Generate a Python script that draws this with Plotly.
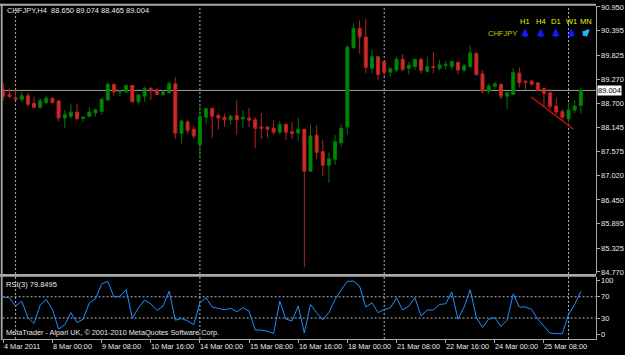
import plotly.graph_objects as go

W, H = 625, 355

# ---------------- data ----------------
opens = [89.03, 88.91, 88.83, 88.79, 88.88, 88.70, 88.61, 88.72, 88.82, 88.76,
         88.36, 88.40, 88.50, 88.35, 88.40, 88.48, 88.51, 88.78, 89.15, 88.97,
         88.97, 89.12, 88.74, 88.87, 89.05, 89.01, 88.91, 88.95, 89.16, 88.00,
         88.27, 88.10, 87.74, 88.38, 88.58, 88.42, 88.38, 88.32, 88.42, 88.34,
         88.36, 88.32, 88.15, 88.15, 88.12, 88.03, 88.21, 88.04, 88.01, 88.10,
         87.12, 87.96, 87.58, 87.26, 87.40, 87.78, 88.15, 90.00, 90.45, 90.25,
         89.52, 89.79, 89.67, 89.43, 89.48, 89.73, 89.52, 89.56, 89.73, 89.45,
         89.56, 89.52, 89.58, 89.56, 89.66, 89.48, 89.56, 89.87, 89.39, 88.99,
         89.10, 89.15, 88.87, 88.91, 89.41, 89.22, 89.22, 89.18, 89.05, 88.95,
         88.64, 88.51, 88.34, 88.54, 88.650]
highs = [89.18, 89.05, 89.02, 88.97, 88.95, 88.86, 88.82, 88.88, 88.85, 88.77,
         88.55, 88.70, 88.70, 88.40, 88.61, 88.59, 88.83, 89.18, 89.16, 89.03,
         89.13, 89.13, 88.90, 89.09, 89.09, 89.06, 89.02, 89.22, 89.31, 88.32,
         88.32, 88.17, 88.70, 88.59, 88.61, 88.48, 88.46, 88.44, 88.77, 88.53,
         88.59, 88.38, 88.48, 88.17, 88.32, 88.29, 88.25, 88.27, 88.36, 88.11,
         88.21, 88.19, 87.85, 87.56, 87.96, 88.22, 90.06, 90.57, 90.64, 90.67,
         89.96, 89.79, 89.69, 89.54, 89.79, 89.85, 89.67, 89.75, 89.77, 89.79,
         89.91, 89.72, 89.69, 89.69, 89.68, 89.62, 90.04, 89.88, 89.48, 89.16,
         89.20, 89.16, 88.97, 89.53, 89.54, 89.25, 89.25, 89.20, 89.06, 89.03,
         88.83, 88.57, 88.72, 88.78, 89.074]
lows = [88.77, 88.82, 88.77, 88.74, 88.63, 88.59, 88.57, 88.69, 88.70, 88.29,
        88.13, 88.35, 88.32, 88.27, 88.38, 88.40, 88.44, 88.77, 88.88, 88.86,
        88.95, 88.73, 88.67, 88.74, 88.78, 88.90, 88.86, 88.93, 87.88, 87.77,
        87.98, 87.88, 87.42, 88.21, 87.90, 88.10, 88.15, 88.21, 87.97, 88.13,
        88.15, 87.66, 87.87, 87.90, 87.97, 87.98, 87.85, 87.87, 87.83, 84.88,
        87.11, 87.40, 87.01, 86.85, 87.27, 87.68, 87.98, 89.98, 89.86, 89.41,
        89.40, 89.24, 89.35, 89.33, 89.43, 89.45, 89.37, 89.48, 89.40, 89.43,
        89.40, 89.47, 89.48, 89.49, 89.39, 89.43, 89.53, 89.35, 88.93, 88.92,
        89.03, 88.80, 88.57, 88.90, 89.07, 89.03, 89.10, 88.99, 88.64, 88.54,
        88.44, 88.32, 88.25, 88.48, 88.465]
closes = [88.87, 88.86, 88.80, 88.88, 88.68, 88.61, 88.76, 88.82, 88.72, 88.36,
          88.44, 88.50, 88.34, 88.38, 88.50, 88.55, 88.80, 89.15, 88.97, 88.99,
          89.12, 88.74, 88.90, 89.05, 88.99, 88.91, 88.97, 89.16, 88.01, 88.29,
          88.07, 87.94, 88.40, 88.58, 88.40, 88.36, 88.32, 88.40, 88.32, 88.38,
          88.31, 88.12, 88.12, 88.10, 88.03, 88.21, 88.03, 88.00, 88.10, 87.12,
          87.94, 87.56, 87.26, 87.41, 87.81, 88.12, 90.01, 90.45, 90.25, 89.54,
          89.79, 89.37, 89.43, 89.52, 89.73, 89.49, 89.59, 89.73, 89.47, 89.56,
          89.54, 89.60, 89.60, 89.68, 89.48, 89.58, 89.88, 89.37, 88.99, 89.11,
          89.16, 88.87, 88.95, 89.42, 89.18, 89.19, 89.15, 89.01, 88.93, 88.63,
          88.50, 88.38, 88.55, 88.64, 89.004]
rsi3 = [69.3, 68.0, 52.6, 61.8, 30.9, 19.8, 54.4, 64.8, 46.3, 9.3,
        17.4, 40.2, 21.7, 27.8, 58.7, 66.1, 93.9, 99.0, 69.8, 71.1,
        83.3, 29.6, 49.4, 63.7, 56.9, 44.4, 52.6, 80.4, 25.9, 29.1,
        24.8, 17.4, 58.7, 68.0, 50.7, 48.1, 45.6, 48.1, 42.0, 49.4,
        43.2, 7.5, 7.5, 5.0, 1.0, 61.8, 27.8, 24.8, 52.6, 1.9,
        55.6, 40.2, 26.6, 40.2, 64.8, 83.3, 98.9, 99.5, 89.6, 50.7,
        58.7, 40.2, 46.3, 49.4, 68.0, 45.1, 52.5, 68.0, 34.0, 45.1,
        45.1, 55.6, 56.9, 79.0, 27.8, 50.7, 83.3, 30.9, 12.4, 27.8,
        30.9, 14.3, 25.9, 75.4, 50.7, 50.7, 46.3, 27.8, 15.6, 1.5,
        0.8, 0.5, 37.0, 55.6, 79.8495]

price_ticks = [90.950, 90.395, 89.825, 89.270, 88.700, 88.145,
               87.575, 87.020, 86.450, 85.895, 85.325, 84.770]
price_ticktext = ["90.950", "90.395", "89.825", "89.270", "88.700", "88.145",
                  "87.575", "87.020", "86.450", "85.895", "85.325", "84.770"]
rsi_ticks = [0, 30, 70, 100]
rsi_levels = [30, 70]
date_bars = [0, 8, 16, 24, 32, 40, 48, 56, 64, 72, 80, 88]
date_labels = ["4 Mar 2011", "8 Mar 00:00", "9 Mar 08:00", "10 Mar 16:00",
               "14 Mar 00:00", "15 Mar 08:00", "16 Mar 16:00", "18 Mar 00:00",
               "21 Mar 08:00", "22 Mar 16:00", "24 Mar 00:00", "25 Mar 08:00"]
week_start_bars = [2, 32, 62, 92]
trend_x = [85.9, 92.8]
trend_y = [88.856, 88.10]
last_price = 89.004
symbol = "CHFJPY"
timeframes = ["H1", "H4", "D1", "W1", "MN"]
tf_direction = ["up", "up", "up", "up", "up-right"]

# ---------------- layout helpers ----------------
def px(x):
    return x / W


def py(y):
    return 1 - y / H


bars = list(range(len(opens)))
X_RANGE = [-0.114, 96.39]
GRAY = "#a8a8a8"
FONT = "Liberation Sans"
TXT = "#e8e8e8"

fig = go.Figure()

fig.add_trace(go.Candlestick(
    x=bars, open=opens, high=highs, low=lows, close=closes,
    increasing=dict(line=dict(color="#007a00", width=1), fillcolor="#008c00"),
    decreasing=dict(line=dict(color="#b82222", width=1), fillcolor="#d42a2a"),
    whiskerwidth=0, xaxis="x", yaxis="y", showlegend=False, hoverinfo="skip"))

fig.add_trace(go.Scatter(
    x=trend_x, y=trend_y, mode="lines", line=dict(color="#d01010", width=1.3),
    xaxis="x", yaxis="y", showlegend=False, hoverinfo="skip"))

fig.add_trace(go.Scatter(
    x=bars, y=rsi3, mode="lines", line=dict(color="#1e90ff", width=1),
    xaxis="x2", yaxis="y2", showlegend=False, hoverinfo="skip"))

shapes = []
for b in week_start_bars:
    shapes.append(dict(type="line", xref="x", yref="y domain", x0=b, x1=b, y0=0, y1=1,
                       line=dict(color="#b8b8b8", width=1, dash="2px,2px"), layer="below"))
    shapes.append(dict(type="line", xref="x2", yref="y2 domain", x0=b, x1=b, y0=0, y1=1,
                       line=dict(color="#b8b8b8", width=1, dash="2px,2px"), layer="below"))
for lv in rsi_levels:
    shapes.append(dict(type="line", xref="x2 domain", yref="y2", x0=0, x1=1, y0=lv, y1=lv,
                       line=dict(color="#b8b8b8", width=1, dash="2px,2px"), layer="below"))
shapes.append(dict(type="line", xref="x domain", yref="y", x0=0, x1=1,
                   y0=last_price, y1=last_price, line=dict(color="#a0a0a0", width=1),
                   layer="below"))
shapes.append(dict(type="rect", xref="paper", yref="paper", x0=px(0), x1=px(596),
                   y0=py(2.8), y1=py(0.8), fillcolor=GRAY, line=dict(width=0)))
shapes.append(dict(type="rect", xref="paper", yref="paper", x0=px(0.8), x1=px(2.6),
                   y0=py(343), y1=py(0.8), fillcolor=GRAY, line=dict(width=0)))
shapes.append(dict(type="rect", xref="paper", yref="paper", x0=px(0), x1=px(596),
                   y0=py(278.4), y1=py(275.6), fillcolor=GRAY, line=dict(width=0)))

annotations = []
annotations.append(dict(xref="paper", yref="paper", x=px(5), y=py(8),
                        text="CHFJPY,H4  88.650 89.074 88.465 89.004",
                        showarrow=False, xanchor="left", yanchor="middle",
                        font=dict(family=FONT, size=7.5, color=TXT)))
annotations.append(dict(xref="paper", yref="paper", x=px(4), y=py(286),
                        text="RSI(3) 79.8495", showarrow=False,
                        xanchor="left", yanchor="middle",
                        font=dict(family=FONT, size=7.5, color=TXT)))
annotations.append(dict(xref="paper", yref="paper", x=px(4), y=py(335.5),
                        text="MetaTrader - Alpari UK, © 2001-2010 MetaQuotes Software Corp.",
                        showarrow=False, xanchor="left", yanchor="middle",
                        font=dict(family=FONT, size=7.3, color=TXT)))
for b, lab in zip(date_bars, date_labels):
    annotations.append(dict(xref="x2", yref="paper", x=b, y=py(349.3), text=lab,
                            showarrow=False, xanchor="left", yanchor="middle", xshift=-1.5,
                            font=dict(family=FONT, size=7.3, color=TXT)))
annotations.append(dict(xref="paper", yref="y", x=px(597), y=last_price,
                        text="89.004", showarrow=False, xanchor="left", yanchor="middle",
                        bgcolor="#ffffff", borderpad=0,
                        font=dict(family=FONT, size=7.5, color="#000000")))
# trend indicator panel
tf_x = [525, 540.7, 555.7, 571.3, 585.7]
for xx, tf, d in zip(tf_x, timeframes, tf_direction):
    annotations.append(dict(xref="paper", yref="paper", x=px(xx), y=py(19.3), text=tf,
                            showarrow=False, xanchor="center", yanchor="middle",
                            font=dict(family=FONT, size=7.5, color="#f0f000")))
    if d == "up":
        annotations.append(dict(xref="paper", yref="paper", x=px(xx), y=py(26), text="",
                                showarrow=True, ax=0, ay=10, arrowhead=2, arrowsize=0.5,
                                arrowwidth=3, arrowcolor="#1414ff", standoff=0,
                                startstandoff=0))
    else:
        annotations.append(dict(xref="paper", yref="paper", x=px(xx + 4), y=py(26.5), text="",
                                showarrow=True, ax=-8, ay=8, arrowhead=2, arrowsize=0.5,
                                arrowwidth=3, arrowcolor="#28b4ff", standoff=0,
                                startstandoff=0))
annotations.append(dict(xref="paper", yref="paper", x=px(502.5), y=py(31), text=symbol,
                        showarrow=False, xanchor="center", yanchor="middle",
                        font=dict(family=FONT, size=7.5, color="#c8c800")))

fig.update_layout(
    width=W, height=H, margin=dict(l=0, r=0, t=0, b=0),
    paper_bgcolor="#000000", plot_bgcolor="#000000",
    showlegend=False, dragmode=False,
    shapes=shapes, annotations=annotations,
    xaxis=dict(domain=[px(2.6), px(595.5)], range=X_RANGE, anchor="y",
               showticklabels=False, showgrid=False, zeroline=False, showline=False,
               ticks="", rangeslider=dict(visible=False), fixedrange=True),
    yaxis=dict(domain=[py(275.6), py(2.8)], range=[84.724, 90.979], anchor="x",
               side="right", tickvals=price_ticks, ticktext=price_ticktext,
               ticks="outside", ticklen=3, tickcolor=GRAY, tickwidth=1,
               ticklabeloverflow="allow",
               tickfont=dict(family=FONT, size=7.5, color=TXT),
               showgrid=False, zeroline=False, showline=True, linecolor=GRAY,
               linewidth=1, fixedrange=True),
    xaxis2=dict(domain=[px(2.6), px(595.5)], range=X_RANGE, anchor="y2",
                tickvals=date_bars, ticks="outside", ticklen=3, tickcolor=GRAY,
                showticklabels=False, showgrid=False, zeroline=False,
                showline=True, linecolor=GRAY, linewidth=1, fixedrange=True),
    yaxis2=dict(domain=[py(341.7), py(278.4)], range=[-9.26, 107.8], anchor="x2",
                side="right", tickvals=rsi_ticks, ticktext=[str(v) for v in rsi_ticks],
                ticks="outside", ticklen=3, tickcolor=GRAY,
                tickfont=dict(family=FONT, size=7.5, color=TXT),
                showgrid=False, zeroline=False, showline=True, linecolor=GRAY,
                linewidth=1, fixedrange=True),
)

fig.write_html("out.html", config={"displayModeBar": False})
